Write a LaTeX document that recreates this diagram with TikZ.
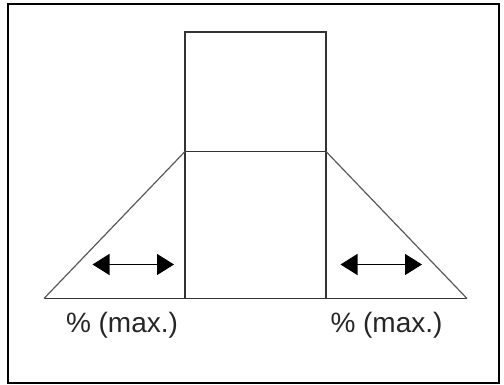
\documentclass[tikz,border=0pt]{standalone}
\usepackage{fontspec}
\setmainfont{Liberation Sans}
\usetikzlibrary{arrows.meta}
\begin{document}
\begin{tikzpicture}[x=1pt,y=-1pt,
  frame/.style={draw=black,line width=2pt},
  body/.style={draw=black!80,line width=1.3pt},
  slope/.style={draw=black!65,line width=1.2pt},
  dimarrow/.style={line width=1.1pt,{Triangle[length=17pt,width=21pt]}-{Triangle[length=17pt,width=21pt]}},
  label/.style={font=\fontsize{28}{32}\selectfont,text=black!85,inner sep=0pt,anchor=base}]
\useasboundingbox (0,0) rectangle (504,385);
\draw[frame] (7.5,4.5) rectangle (498.5,382.5);
% named points
\coordinate (bl) at (44,298.5);
\coordinate (br) at (467,298.5);
\coordinate (ml) at (185,298.5);
\coordinate (mr) at (326,298.5);
\coordinate (tl) at (185,151.5);
\coordinate (tr) at (326,151.5);
\coordinate (ttl) at (185,32);
\coordinate (ttr) at (326,32);
% upper box
\draw[body] (tl) -- (ttl) -- (ttr) -- (tr);
% center box
\draw[body] (tl) -- (tr) -- (mr) -- (ml) -- cycle;
% base lines
\draw[body] (bl) -- (ml);
\draw[body] (mr) -- (br);
% slopes
\draw[slope] (bl) -- (tl);
\draw[slope] (br) -- (tr);
% arrows
\coordinate (la1) at (92.5,264.5);
\coordinate (la2) at (174,264.5);
\coordinate (ra1) at (340.5,264.5);
\coordinate (ra2) at (422,264.5);
\draw[dimarrow] (la1) -- (la2);
\draw[dimarrow] (ra1) -- (ra2);
% labels
\node[label] (lt) at (122,332) {\% (max.)};
\node[label] (rt) at (386.5,332) {\% (max.)};
\end{tikzpicture}
\end{document}
